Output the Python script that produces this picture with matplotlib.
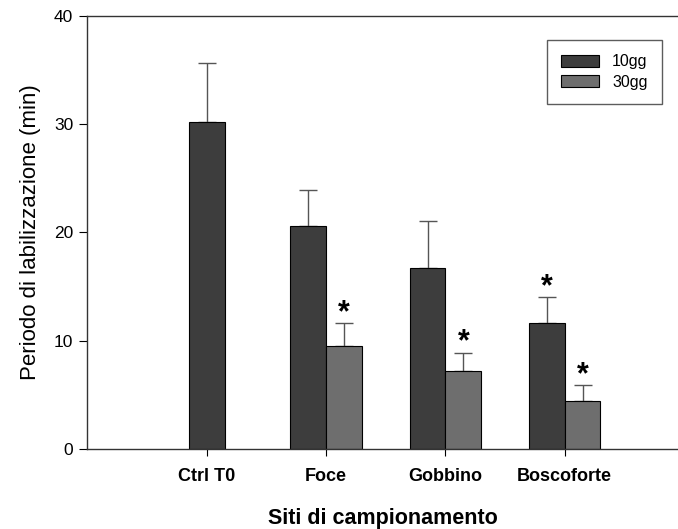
import numpy as np
import matplotlib
matplotlib.use("Agg")
import matplotlib.pyplot as plt

plt.rcParams['font.family'] = ['Liberation Sans', 'DejaVu Sans']

# dati
siti = ["Ctrl T0", "Foce", "Gobbino", "Boscoforte"]
val_10gg = [30.2, 20.6, 16.7, 11.6]
err_10gg = [5.5, 3.3, 4.4, 2.4]
val_30gg = [9.5, 7.2, 4.4]          # Ctrl T0 non ha il 30gg
err_30gg = [2.1, 1.7, 1.5]
sig_10gg = [False, False, False, True]
sig_30gg = [True, True, True]

fig = plt.figure(figsize=(6.78, 5.29), dpi=100)
ax = fig.add_axes([87/678, 1 - 449/529, 1 - 87/678, (449 - 16)/529])

w = 0.30
x = np.arange(len(siti))
x10 = x - w/2
x10[0] = x[0]   # barra singola centrata
x30 = x[1:] + w/2

c10 = "#3d3d3d"
c30 = "#6e6e6e"
errkw = dict(ecolor="#555555", elinewidth=1.0, capsize=6.5, capthick=1.0)

ax.bar(x10, val_10gg, width=w, color=c10, edgecolor="black", linewidth=0.8,
       label="10gg", zorder=2)
ax.errorbar(x10, val_10gg, yerr=[np.zeros(len(err_10gg)), err_10gg], fmt="none",
            zorder=1, **errkw)
ax.bar(x30, val_30gg, width=w, color=c30, edgecolor="black", linewidth=0.8,
       label="30gg", zorder=2)
ax.errorbar(x30, val_30gg, yerr=[np.zeros(len(err_30gg)), err_30gg], fmt="none",
            zorder=1, **errkw)

# asterischi
for xi, v, e, s in zip(x10, val_10gg, err_10gg, sig_10gg):
    if s:
        ax.text(xi, v + e - 0.45, "*", ha="center", va="bottom", fontsize=22,
                fontweight="bold")
for xi, v, e, s in zip(x30, val_30gg, err_30gg, sig_30gg):
    if s:
        ax.text(xi, v + e - 0.45, "*", ha="center", va="bottom", fontsize=22,
                fontweight="bold")

ax.set_xlim(-1.006, 3.95)
ax.set_ylim(0, 40)
ax.set_yticks([0, 10, 20, 30, 40])
ax.set_xticks(x)
ax.set_xticklabels(siti, fontsize=13, fontweight="bold")
ax.tick_params(axis="y", labelsize=12.5, length=6, direction="out", pad=4)
ax.tick_params(axis="x", length=5, direction="out", pad=9)

ax.spines["right"].set_visible(False)
for s in ["left", "top", "bottom"]:
    ax.spines[s].set_linewidth(1.0)
    ax.spines[s].set_color("#333333")

ax.set_ylabel("Periodo di labilizzazione (min)", fontsize=16, labelpad=9)
ax.set_xlabel("Siti di campionamento", fontsize=15.5, fontweight="bold", labelpad=16)

leg = ax.legend(loc="upper right", bbox_to_anchor=(0.973, 0.945), fontsize=11.5,
                frameon=True, fancybox=False, edgecolor="#333333",
                handlelength=2.4, handleheight=0.8, borderpad=0.9,
                labelspacing=0.35, handletextpad=0.8, borderaxespad=0)
leg.get_frame().set_linewidth(1.0)

plt.savefig("out.png", dpi=100)
